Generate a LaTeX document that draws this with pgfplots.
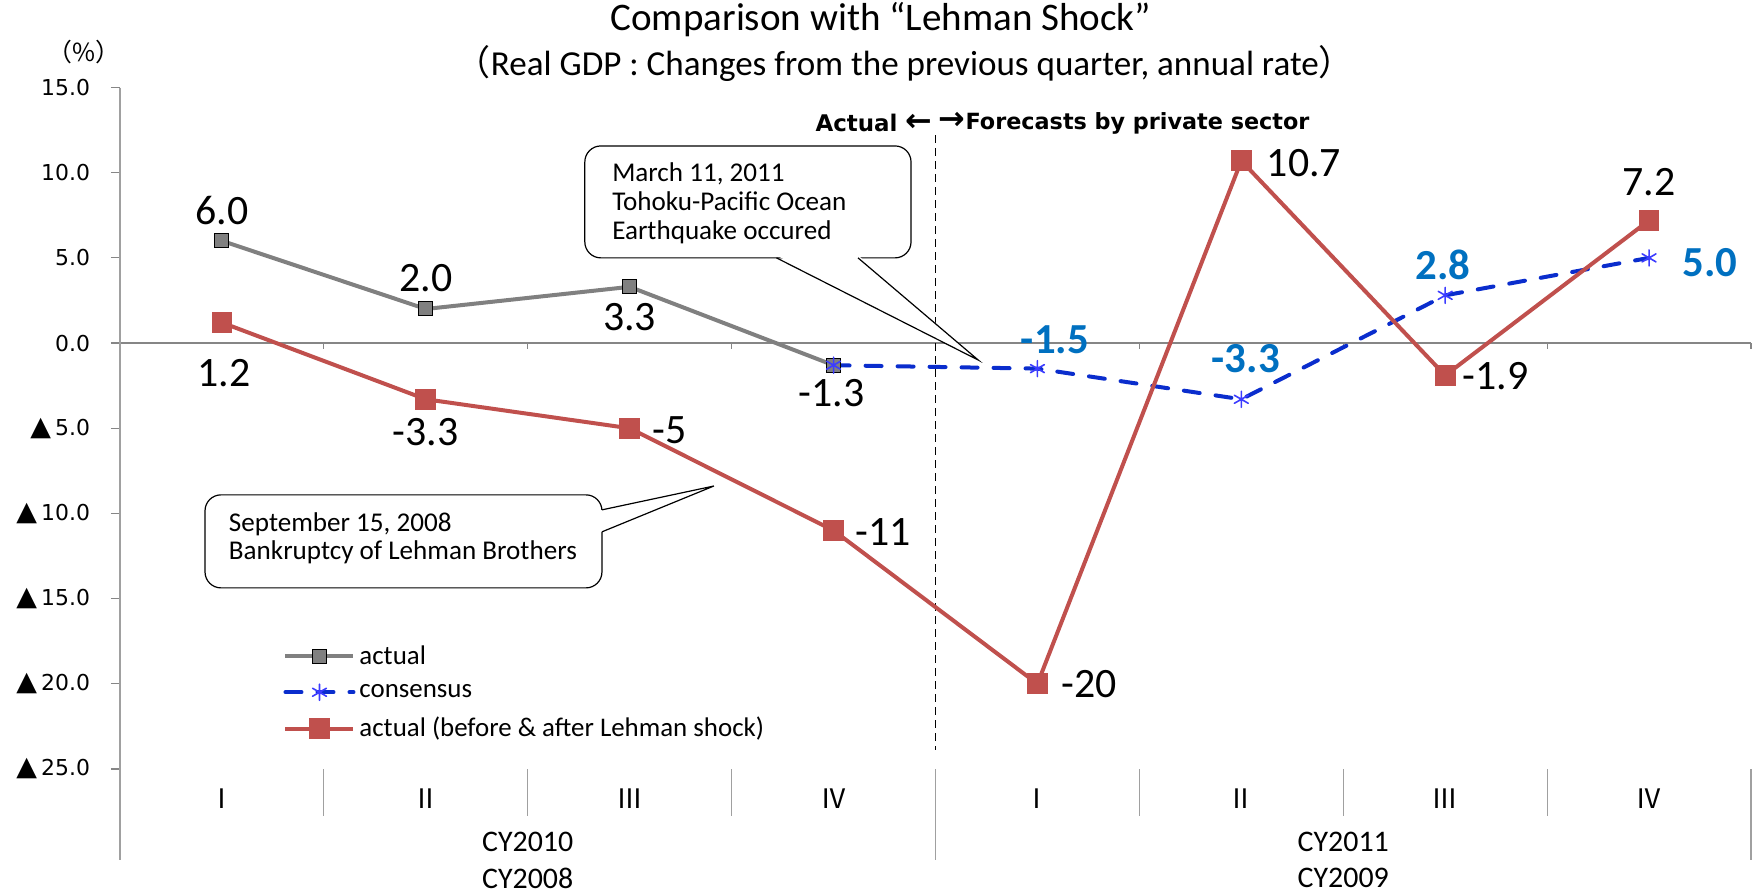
\documentclass[border=0pt]{standalone}
\usepackage{pgfplots}
\pgfplotsset{compat=1.18}
\usepackage{fontspec}
\setmainfont{Carlito}
\newfontfamily\dejavu{DejaVu Sans}
\newfontfamily\cjk{Noto Sans CJK JP}
\definecolor{actgray}{RGB}{128,128,128}
\definecolor{lehred}{RGB}{192,80,77}
\definecolor{consblue}{RGB}{10,45,205}
\definecolor{astblue}{RGB}{60,60,255}
\definecolor{lblblue}{RGB}{0,112,192}
\definecolor{axgray}{RGB}{134,134,134}
\definecolor{sepgray}{RGB}{160,160,160}
\newcommand{\tri}{{\fontsize{13.5}{14}\selectfont▲}\kern2bp}
\begin{document}
\begin{tikzpicture}
\path[use as bounding box] (-60bp,-62bp) rectangle (820bp,384.5bp);
\begin{axis}[
  scale only axis, width=815.5bp, height=340.75bp,
  xmin=-0.5, xmax=7.5, ymin=-25, ymax=15,
  clip=false,
  axis line style={draw=none},
  xtick={0,...,7},
  xticklabels={Ⅰ,Ⅱ,Ⅲ,Ⅳ,Ⅰ,Ⅱ,Ⅲ,Ⅳ},
  x tick style={draw=none},
  xticklabel style={font=\cjk\fontsize{13.5}{14}\selectfont, anchor=center, yshift=-10.5bp},
  ytick={-25,-20,...,15},
  yticklabels={\tri25.0,\tri20.0,\tri15.0,\tri10.0,\tri5.0,0.0,5.0,10.0,15.0},
  yticklabel style={font=\dejavu\fontsize{11}{12}\selectfont, xshift=-7bp},
  y tick style={draw=axgray, line width=0.6bp},
  tick align=outside, major tick length=4.5bp,
  ytick pos=left,
  legend image code/.code={\draw[mark repeat=2,mark phase=2] plot coordinates {(0bp,0bp)(17bp,0bp)(34bp,0bp)};},
  legend style={at={(axis cs:0.30,-17.5)}, anchor=north west, draw=none, fill=none, inner sep=0pt,
    row sep=4.5bp, font=\fontsize{13.5}{15}\selectfont, cells={anchor=west}},
]
% axis lines
\draw[axgray, line width=0.9bp] (axis cs:-0.5,0) -- (axis cs:7.5,0);
\draw[axgray, line width=0.6bp] (axis cs:0.5,0) -- ([yshift=-3bp]axis cs:0.5,0);
\draw[axgray, line width=0.6bp] (axis cs:1.5,0) -- ([yshift=-3bp]axis cs:1.5,0);
\draw[axgray, line width=0.6bp] (axis cs:2.5,0) -- ([yshift=-3bp]axis cs:2.5,0);
\draw[axgray, line width=0.6bp] (axis cs:3.5,0) -- ([yshift=-3bp]axis cs:3.5,0);
\draw[axgray, line width=0.6bp] (axis cs:4.5,0) -- ([yshift=-3bp]axis cs:4.5,0);
\draw[axgray, line width=0.6bp] (axis cs:5.5,0) -- ([yshift=-3bp]axis cs:5.5,0);
\draw[axgray, line width=0.6bp] (axis cs:6.5,0) -- ([yshift=-3bp]axis cs:6.5,0);
\draw[axgray, line width=0.6bp] (axis cs:7.5,0) -- ([yshift=-3bp]axis cs:7.5,0);
\draw[sepgray, line width=0.8bp] (axis cs:-0.5,15) -- ([yshift=-45.5bp]axis cs:-0.5,-25);
\draw[sepgray, line width=0.6bp] (axis cs:7.5,-25) -- ([yshift=-45.5bp]axis cs:7.5,-25);
\draw[sepgray, line width=0.6bp] (axis cs:3.5,-25) -- ([yshift=-45.5bp]axis cs:3.5,-25);
\draw[sepgray, line width=0.6bp] (axis cs:0.5,-25) -- ([yshift=-23.5bp]axis cs:0.5,-25);
\draw[sepgray, line width=0.6bp] (axis cs:1.5,-25) -- ([yshift=-23.5bp]axis cs:1.5,-25);
\draw[sepgray, line width=0.6bp] (axis cs:2.5,-25) -- ([yshift=-23.5bp]axis cs:2.5,-25);
\draw[sepgray, line width=0.6bp] (axis cs:4.5,-25) -- ([yshift=-23.5bp]axis cs:4.5,-25);
\draw[sepgray, line width=0.6bp] (axis cs:5.5,-25) -- ([yshift=-23.5bp]axis cs:5.5,-25);
\draw[sepgray, line width=0.6bp] (axis cs:6.5,-25) -- ([yshift=-23.5bp]axis cs:6.5,-25);
% year labels
\node[font=\fontsize{15}{17}\selectfont] at ([yshift=-36.5bp]axis cs:1.5,-25) {CY2010};
\node[font=\fontsize{15}{17}\selectfont] at ([yshift=-36.5bp]axis cs:5.5,-25) {CY2011};
\node[font=\fontsize{15}{17}\selectfont] at ([yshift=-54.5bp]axis cs:1.5,-25) {CY2008};
\node[font=\fontsize{15}{17}\selectfont] at ([yshift=-54.5bp]axis cs:5.5,-25) {CY2009};
% dashed divider
\draw[black, line width=0.7bp, dash pattern=on 4bp off 2.5bp] (axis cs:3.5,12.2) -- (axis cs:3.5,-23.9);
% titles
\node[font=\fontsize{19.6}{22}\selectfont] at (axis cs:3.232,18.96) {Comparison with “Lehman Shock”};
\node[font=\fontsize{17.6}{20}\selectfont] at (axis cs:3.35,16.38) {{\cjk （}Real GDP : Changes from the previous quarter, annual rate{\cjk ）}};
\node[font=\cjk\fontsize{12.5}{14}\selectfont] at (axis cs:-0.677,17.08) {（\%）};
\node[font=\dejavu\bfseries\fontsize{11.5}{13}\selectfont, anchor=east, inner sep=0pt] at ([xshift=-1.5bp]axis cs:3.5,12.9) {Actual {\fontsize{16}{16}\selectfont ←}};
\node[font=\dejavu\bfseries\fontsize{11.2}{13}\selectfont, anchor=west, inner sep=0pt] at ([xshift=1.5bp]axis cs:3.5,12.9) {{\fontsize{16}{16}\selectfont →}Forecasts by private sector};
% callout 1
\draw[black, line width=0.6bp, fill=white, rounded corners=8bp] (axis cs:1.78,5.0) rectangle (axis cs:3.38,11.57);
\fill[white] (axis cs:2.72,5.15) -- (axis cs:3.12,5.15) -- (axis cs:3.71,-1.0) -- cycle;
\draw[black, line width=0.6bp] (axis cs:2.72,5.0) -- (axis cs:3.71,-1.0) -- (axis cs:3.12,5.0);
\node[anchor=west, align=left, font=\fontsize{13.6}{14.5}\selectfont] at (axis cs:1.88,8.2) {March 11, 2011\\Tohoku-Pacific Ocean\\Earthquake occured};
% callout 2
\draw[black, line width=0.6bp, fill=white, rounded corners=8bp] (axis cs:-0.083,-14.37) rectangle (axis cs:1.864,-8.91);
\fill[white] (axis cs:1.82,-9.79) -- (axis cs:1.864,-9.79) -- (axis cs:2.413,-8.39) -- (axis cs:1.864,-11.08) -- (axis cs:1.82,-11.08) -- cycle;
\draw[black, line width=0.6bp] (axis cs:1.864,-9.79) -- (axis cs:2.413,-8.39) -- (axis cs:1.864,-11.08);
\node[anchor=west, align=left, font=\fontsize{13.6}{14}\selectfont] at (axis cs:0.0,-11.44) {September 15, 2008\\Bankruptcy of Lehman Brothers};
% data
\addplot[actgray, line width=2bp, mark=square*, mark size=3.5bp, mark options={fill=actgray, draw=black, line width=0.5bp}] coordinates {(0,6.0)(1,2.0)(2,3.3)(3,-1.3)};
\addlegendentry{actual}
\addplot[consblue, line width=2bp, line cap=round, dash pattern=on 8bp off 8bp, mark=asterisk, mark size=4bp, mark options={astblue, solid, line width=0.8bp}] coordinates {(3,-1.3)(4,-1.5)(5,-3.3)(6,2.8)(7,5.0)};
\addlegendentry{consensus}
\addplot[lehred, line width=2bp, mark=square*, mark size=4.2bp, mark options={fill=lehred, draw=lehred, solid}] coordinates {(0,1.2)(1,-3.3)(2,-5)(3,-11)(4,-20)(5,10.7)(6,-1.9)(7,7.2)};
\addlegendentry{actual (before \& after Lehman shock)}
% data labels
\begin{scope}[font=\fontsize{21}{23}\selectfont]
\node at (axis cs:0,7.8) {6.0};
\node at (axis cs:1.0,3.82) {2.0};
\node at (axis cs:2.0,1.53) {3.3};
\node at (axis cs:2.99,-2.93) {-1.3};
\node at (axis cs:0.01,-1.75) {1.2};
\node at (axis cs:1.0,-5.22) {-3.3};
\node at (axis cs:2.197,-5.1) {-5};
\node at (axis cs:3.242,-11.08) {-11};
\node at (axis cs:4.252,-20.0) {-20};
\node at (axis cs:5.307,10.57) {10.7};
\node at (axis cs:6.248,-1.93) {-1.9};
\node at (axis cs:7.0,9.45) {7.2};
\end{scope}
\begin{scope}[font=\bfseries\fontsize{21.5}{23}\selectfont, text=lblblue]
\node at (axis cs:4.086,0.2) {-1.5};
\node at (axis cs:5.022,-0.9) {-3.3};
\node at (axis cs:5.99,4.58) {2.8};
\node at (axis cs:7.298,4.7) {5.0};
\end{scope}
\end{axis}
\end{tikzpicture}
\end{document}
